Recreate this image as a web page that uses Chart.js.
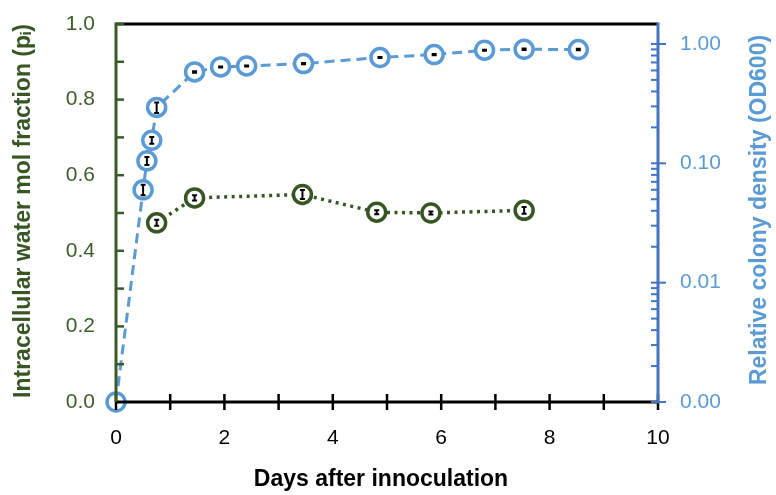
<!DOCTYPE html>
<html>
<head>
<meta charset="utf-8">
<script src="https://cdn.jsdelivr.net/npm/chart.js@4.4.1/dist/chart.umd.min.js"></script>
<style>
  html, body { margin: 0; padding: 0; background: #fff; }
  #wrap { width: 776px; height: 495px; }
</style>
</head>
<body>
<div id="wrap"><canvas id="myChart" width="776" height="495"></canvas></div>
<script>
// Relative colony density (OD600), right log axis
const densityDays = [0, 0.50, 0.57, 0.66, 0.75, 1.45, 1.93, 2.41, 3.46, 4.87, 5.87, 6.80, 7.53, 8.53];
const densityVals = [0.001, 0.060, 0.105, 0.156, 0.294, 0.583, 0.642, 0.654, 0.685, 0.770, 0.815, 0.886, 0.903, 0.898];
const densityErr  = [0, 0.006, 0.008, 0.010, 0.030, 0.008, 0.006, 0.006, 0.008, 0.008, 0.010, 0.010, 0.012, 0.014];

// Intracellular water mol fraction, left axis
const waterDays = [0.75, 1.45, 3.44, 4.81, 5.81, 7.53];
const waterVals = [0.474, 0.540, 0.549, 0.502, 0.500, 0.507];
const waterErr  = [0.008, 0.007, 0.012, 0.005, 0.004, 0.009];

const leftTicks = [0, 0.2, 0.4, 0.6, 0.8, 1.0];
const rightTicks = [0.001, 0.01, 0.1, 1];

const GREEN = '#375623';
const BLUE = '#5b9bd5';
const AXIS_BLUE = '#4472c4';
const FONT = '"Liberation Sans", Arial, sans-serif';

function pts(xs, ys) {
  return xs.map((x, i) => ({ x: x, y: ys[i] }));
}

// axes, tick marks, error bars and titles
const axesPlugin = {
  id: 'axesPlugin',
  afterDatasetsDraw(chart) {
    const c = chart.ctx;
    const a = chart.chartArea;
    const sx = chart.scales.x, sy = chart.scales.y, sy2 = chart.scales.y2;
    c.save();

    // error bars
    c.strokeStyle = '#000';
    c.lineWidth = 2;
    const bar = (px, p1, p2) => {
      c.beginPath();
      c.moveTo(px, p1); c.lineTo(px, p2);
      c.moveTo(px - 2.5, p1); c.lineTo(px + 2.5, p1);
      c.moveTo(px - 2.5, p2); c.lineTo(px + 2.5, p2);
      c.stroke();
    };
    densityDays.forEach((d, i) => {
      if (!densityErr[i]) return;
      bar(sx.getPixelForValue(d),
          sy2.getPixelForValue(densityVals[i] + densityErr[i]),
          sy2.getPixelForValue(densityVals[i] - densityErr[i]));
    });
    waterDays.forEach((d, i) => {
      bar(sx.getPixelForValue(d),
          sy.getPixelForValue(waterVals[i] + waterErr[i]),
          sy.getPixelForValue(waterVals[i] - waterErr[i]));
    });

    c.lineWidth = 3;
    c.lineCap = 'butt';

    // top border
    c.strokeStyle = '#000';
    c.beginPath(); c.moveTo(a.left, a.top); c.lineTo(a.right, a.top); c.stroke();

    // bottom axis with crossing ticks
    c.beginPath(); c.moveTo(a.left, a.bottom); c.lineTo(a.right, a.bottom); c.stroke();
    c.lineWidth = 2.5;
    for (let d = 0; d <= 10; d++) {
      const px = sx.getPixelForValue(d);
      c.beginPath(); c.moveTo(px, a.bottom - 8); c.lineTo(px, a.bottom + 8); c.stroke();
    }

    // left axis
    c.strokeStyle = '#3b5a28';
    c.lineWidth = 3;
    c.beginPath(); c.moveTo(a.left, a.top - 1.5); c.lineTo(a.left, a.bottom); c.stroke();
    c.lineWidth = 2.5;
    for (let v = 1; v <= 10; v++) {
      const py = sy.getPixelForValue(v / 10);
      c.beginPath(); c.moveTo(a.left, py); c.lineTo(a.left + 8, py); c.stroke();
    }

    // right log axis
    c.strokeStyle = AXIS_BLUE;
    c.lineWidth = 3;
    c.beginPath(); c.moveTo(a.right, a.top - 1.5); c.lineTo(a.right, a.bottom + 1.5); c.stroke();
    c.lineWidth = 2;
    rightTicks.forEach(t => {
      const py = sy2.getPixelForValue(t);
      c.beginPath(); c.moveTo(a.right - 7, py); c.lineTo(a.right + 8, py); c.stroke();
      for (let m = 2; m <= 9; m++) {
        const v = t * m;
        if (v > sy2.max) continue;
        const pm = sy2.getPixelForValue(v);
        c.beginPath(); c.moveTo(a.right - 7, pm); c.lineTo(a.right, pm); c.stroke();
      }
    });

    // titles
    c.font = 'bold 23px ' + FONT;
    c.textAlign = 'center';
    c.textBaseline = 'middle';
    c.fillStyle = '#000';
    c.fillText('Days after innoculation', 381, 480);

    c.save();
    c.translate(24, 211);
    c.rotate(-Math.PI / 2);
    c.fillStyle = GREEN;
    c.fillText('Intracellular water mol fraction (pᵢ)', 0, 0);
    c.restore();

    c.save();
    c.translate(760, 210);
    c.rotate(-Math.PI / 2);
    c.fillStyle = BLUE;
    c.fillText('Relative colony density (OD600)', 0, 0);
    c.restore();

    c.restore();
  }
};

// keep the plot area where the reference has it
function fitVertical(width) {
  return s => {
    s.width = width;
    s.paddingTop = 0;
    s.paddingBottom = 0;
  };
}

const ctx = document.getElementById('myChart');
const myChart = new Chart(ctx, {
  type: 'line',
  data: {
    datasets: [{
      label: 'OD600',
      data: pts(densityDays, densityVals),
      yAxisID: 'y2',
      borderColor: BLUE,
      borderWidth: 3,
      borderDash: [10, 6],
      pointRadius: 9,
      pointBorderWidth: 3.5,
      pointBorderColor: BLUE,
      pointBackgroundColor: '#fff',
      tension: 0,
      clip: false
    }, {
      label: 'water',
      data: pts(waterDays, waterVals),
      yAxisID: 'y',
      borderColor: GREEN,
      borderWidth: 3.5,
      borderDash: [3, 4.5],
      pointRadius: 9,
      pointBorderWidth: 3.5,
      pointBorderColor: GREEN,
      pointBackgroundColor: '#fff',
      tension: 0,
      clip: false
    }]
  },
  options: {
    responsive: false,
    animation: false,
    devicePixelRatio: 1,
    layout: { padding: { top: 24, left: 0, right: 0, bottom: 0 } },
    plugins: {
      legend: { display: false },
      tooltip: { enabled: false }
    },
    scales: {
      x: {
        type: 'linear',
        min: 0,
        max: 10,
        grid: { display: false, drawTicks: false },
        border: { display: false },
        ticks: { stepSize: 2, padding: 24, color: '#000', font: { family: FONT, size: 21 } },
        afterFit(s) { s.height = 93; s.paddingLeft = 0; s.paddingRight = 0; }
      },
      y: {
        type: 'linear',
        position: 'left',
        min: 0,
        max: 1,
        grid: { display: false, drawTicks: false },
        border: { display: false },
        afterBuildTicks(s) { s.ticks = leftTicks.map(v => ({ value: v })); },
        ticks: {
          padding: 21,
          color: '#3d5c2a',
          font: { family: FONT, size: 21 },
          callback: v => v.toFixed(1)
        },
        afterFit: fitVertical(116)
      },
      y2: {
        type: 'logarithmic',
        position: 'right',
        min: 0.001,
        max: 1.47,
        grid: { display: false, drawTicks: false },
        border: { display: false },
        afterBuildTicks(s) { s.ticks = rightTicks.map(v => ({ value: v })); },
        ticks: {
          padding: 22,
          autoSkip: false,
          color: BLUE,
          font: { family: FONT, size: 21 },
          callback: v => Number(v).toFixed(2)
        },
        afterFit: fitVertical(118)
      }
    }
  },
  plugins: [axesPlugin]
});
</script>
</body>
</html>
